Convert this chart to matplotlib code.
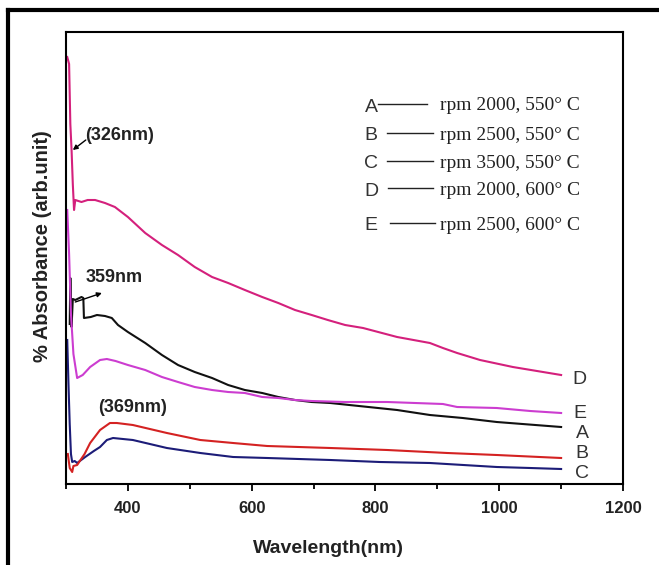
import matplotlib
matplotlib.use("Agg")
import matplotlib.pyplot as plt
from matplotlib.lines import Line2D
from matplotlib.ticker import MultipleLocator

# --- data (wavelength in nm, absorbance in arb. units) ---
wl_A = [306, 307, 309, 311, 315, 325, 328, 329, 340, 350, 363, 374, 384, 400, 428, 455, 481,
        508, 536, 562, 589, 617, 643, 670, 697, 727, 835, 888, 941, 996, 1100]
abs_A = [160, 206, 157, 185, 184, 187, 186, 166, 167, 169, 168, 166, 159, 152, 141, 129, 119,
         112, 106, 99, 94, 91, 87, 84, 82, 81, 74, 69, 66, 62, 57]

wl_B = [303, 306, 310, 312, 318, 330, 339, 355, 371, 382, 408, 463, 517, 570, 625, 727, 819,
        916, 996, 1100]
abs_B = [30, 16, 12, 18, 19, 30, 41, 54, 61, 61, 59, 51, 44, 41, 38, 36, 34, 31, 29, 26]

wl_C = [302, 304, 306, 308, 310, 314, 318, 331, 345, 355, 366, 376, 408, 463, 517, 570, 625,
        727, 807, 888, 996, 1050, 1100]
abs_C = [144, 100, 60, 30, 22, 23, 21, 27, 33, 37, 44, 46, 44, 36, 31, 27, 26, 24, 22, 21,
         17, 16, 15]

wl_D = [302, 305, 307, 309, 311, 313, 315, 325, 335, 347, 363, 379, 400, 428, 455, 481, 508,
        536, 562, 589, 617, 643, 670, 697, 723, 751, 780, 835, 888, 909, 932, 969, 1022, 1100]
abs_D = [427, 420, 360, 334, 300, 274, 284, 282, 284, 284, 281, 277, 267, 251, 239, 229, 217,
         207, 201, 194, 187, 181, 174, 169, 164, 159, 156, 147, 141, 136, 131, 124, 117, 109]

wl_E = [302, 305, 308, 312, 318, 327, 339, 355, 366, 380, 400, 428, 455, 481, 508, 536, 562,
        589, 617, 643, 670, 697, 751, 819, 909, 932, 996, 1050, 1100]
abs_E = [274, 230, 170, 130, 106, 109, 117, 124, 125, 123, 119, 114, 107, 102, 97, 94, 92,
         91, 87, 86, 84, 83, 82, 82, 80, 77, 76, 73, 71]

series = {
    "A": (wl_A, abs_A, "#111111"),
    "B": (wl_B, abs_B, "#d42222"),
    "C": (wl_C, abs_C, "#1c1c78"),
    "D": (wl_D, abs_D, "#d4207c"),
    "E": (wl_E, abs_E, "#cc3dd0"),
}
legend_text = {
    "A": "rpm 2000, 550° C",
    "B": "rpm 2500, 550° C",
    "C": "rpm 3500, 550° C",
    "D": "rpm 2000, 600° C",
    "E": "rpm 2500, 600° C",
}
# end labels next to each curve (x, y in data units)
end_labels = {"D": (1130, 104), "E": (1130, 71), "A": (1134, 50), "B": (1134, 31), "C": (1134, 11)}

fig = plt.figure(figsize=(6.59, 5.65), dpi=100)
ax = fig.add_axes([66 / 659, 1 - 484 / 565, 557 / 659, 452 / 565])

for key in ["A", "D", "E", "C", "B"]:
    x, y, col = series[key]
    ax.plot(x, y, color=col, lw=1.5, solid_joinstyle="round")

ax.set_xlim(300, 1200)
ax.set_ylim(0, 452)
ax.set_yticks([])
ax.xaxis.set_major_locator(MultipleLocator(200))
ax.xaxis.set_minor_locator(MultipleLocator(100))
ax.tick_params(axis="x", which="major", direction="out", length=5, width=1.3, pad=7,
               labelsize=12)
ax.tick_params(axis="x", which="minor", direction="out", length=3.5, width=1.3)
for lab in ax.get_xticklabels():
    lab.set_fontfamily("Liberation Sans")
    lab.set_fontweight("bold")
    lab.set_color("#222222")
ax.xaxis.set_ticklabels(["", "400", "600", "800", "1000", "1200"])
for sp in ax.spines.values():
    sp.set_linewidth(1.5)

ax.set_xlabel("Wavelength(nm)", fontsize=14, fontweight="bold", family="Liberation Sans",
              color="#222222")
ax.xaxis.set_label_coords(0.472, -0.1416)
ax.xaxis.label.set_va("center")
ax.set_ylabel("% Absorbance (arb.unit)", fontsize=14.5, fontweight="bold",
              family="Liberation Sans", color="#222222")
ax.yaxis.set_label_coords(-0.043, 0.527)
ax.yaxis.label.set_va("center")

# peak annotations
bold = dict(fontsize=13, fontweight="bold", family="Liberation Sans", color="#222222")
ax.text(331, 349, "(326nm)", ha="left", va="center", **bold)
ax.annotate("", xy=(311, 334), xytext=(332, 344),
            arrowprops=dict(arrowstyle="-|>", color="black", lw=1, mutation_scale=7,
                            shrinkA=0, shrinkB=0))
ax.text(331, 206, "359nm", ha="left", va="center", **bold)
ax.annotate("", xy=(358, 191), xytext=(315, 182),
            arrowprops=dict(arrowstyle="-|>", color="black", lw=1, mutation_scale=7,
                            shrinkA=0, shrinkB=0))
ax.text(352, 76, "(369nm)", ha="left", va="center", **bold)

# curve end letters
for key, (xl, yl) in end_labels.items():
    ax.text(xl, yl, key, ha="center", va="center", fontsize=14, family="Liberation Sans",
            color="#333333")

# hand-made legend block (axes fraction)
rows = [("A", 107, 378, 427), ("B", 136, 387, 433), ("C", 164, 387, 433),
        ("D", 191, 388, 433), ("E", 226, 390, 435)]
for key, py, lx0, lx1 in rows:
    yf = (484 - py) / 452
    ax.text((371 - 66) / 557, yf, key, transform=ax.transAxes, ha="center", va="center",
            fontsize=14, family="Liberation Sans", color="#333333")
    ax.add_line(Line2D([(lx0 - 66) / 557, (lx1 - 66) / 557], [yf + 3 / 452, yf + 3 / 452],
                       transform=ax.transAxes, color="#222222", lw=1))
    ax.text((440 - 66) / 557, yf + 1 / 452, legend_text[key], transform=ax.transAxes,
            ha="left", va="center", fontsize=14, family="Liberation Serif", color="#222222")

# outer frame (only left and top edges are visible in the crop)
fig.add_artist(Line2D([8 / 659, 8 / 659], [0, 1 - 10 / 565], transform=fig.transFigure,
                      color="black", lw=3))
fig.add_artist(Line2D([8 / 659, 1], [1 - 10 / 565, 1 - 10 / 565], transform=fig.transFigure,
                      color="black", lw=3))

fig.savefig("out.png", dpi=100)
